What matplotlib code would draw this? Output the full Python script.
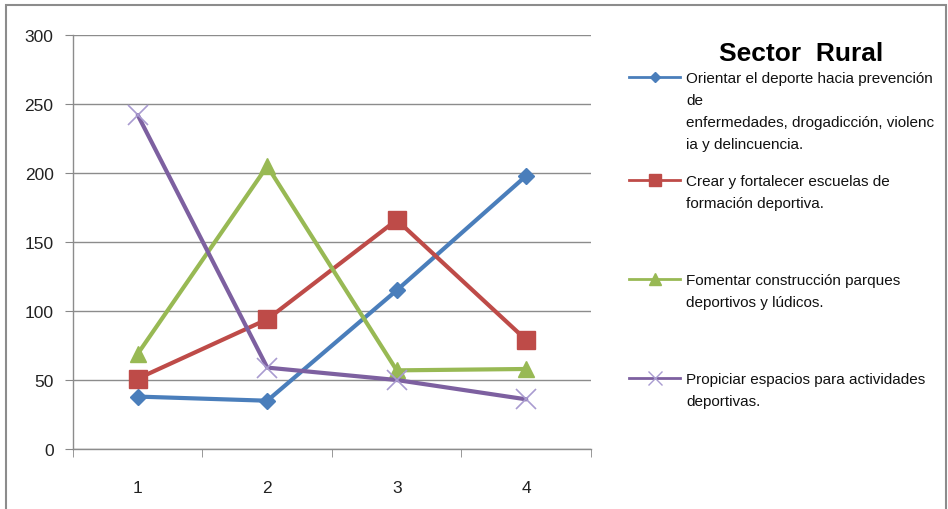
import matplotlib
matplotlib.use("Agg")
import matplotlib.pyplot as plt
from matplotlib.lines import Line2D
from matplotlib.patches import Rectangle

# data
categories = [1, 2, 3, 4]
orientar = [38, 35, 115, 198]
crear = [51, 94, 166, 79]
fomentar = [69, 205, 57, 58]
propiciar = [242, 59, 50, 36]

labels = [
    "Orientar el deporte hacia prevención\nde\nenfermedades, drogadicción, violenc\nia y delincuencia.",
    "Crear y fortalecer escuelas de\nformación deportiva.",
    "Fomentar construcción parques\ndeportivos y lúdicos.",
    "Propiciar espacios para actividades\ndeportivas.",
]
title = "Sector  Rural"

colors = ["#4A7EBB", "#BE4B48", "#98B954", "#7D60A0"]
markers = ["D", "s", "^", "x"]
msizes = [8, 13, 12, 14]

plt.rcParams["font.family"] = ["Liberation Sans", "DejaVu Sans"]

fig = plt.figure(figsize=(9.48, 5.1), dpi=100)
ax = fig.add_axes([0.077, 0.1176, 0.5464, 0.8118])

series = [orientar, crear, fomentar, propiciar]
for vals, c, m, ms in zip(series, colors, markers, msizes):
    if m == "x":
        ax.plot(categories, vals, color=c, lw=3, marker=m, ms=ms,
                markeredgecolor="#A99BD0", mew=1.2, solid_capstyle="round")
    else:
        ax.plot(categories, vals, color=c, lw=3, marker=m, ms=ms,
                markeredgecolor=c, solid_capstyle="round")

ax.set_xlim(0.5, 4.5)
ax.set_ylim(0, 300)
ax.set_yticks(range(0, 301, 50))
ax.set_xticks(categories)
ax.set_xticks([0.5, 1.5, 2.5, 3.5, 4.5], minor=True)
ax.tick_params(axis="x", which="major", length=0, pad=22, labelsize=12.5, colors="#222222")
ax.tick_params(axis="x", which="minor", length=6, color="#888888", direction="out")
ax.tick_params(axis="y", length=6, labelsize=12.5, pad=8)
ax.tick_params(axis="y", colors="#888888", labelcolor="#222222")
ax.yaxis.grid(True, color="#8c8c8c", lw=1)
ax.set_axisbelow(True)
for s in ["top", "right"]:
    ax.spines[s].set_visible(False)
for s in ["left", "bottom"]:
    ax.spines[s].set_color("#8c8c8c")
    ax.spines[s].set_linewidth(1)

# legend drawn by hand to match the spacing in the reference
fig.text(0.845, 0.895, title, ha="center", va="center", fontsize=19,
         fontweight="bold")
ys = [0.847, 0.645, 0.451, 0.257]
for lab, c, m, ms, y in zip(labels, colors, markers, msizes, ys):
    fig.add_artist(Line2D([0.664, 0.717], [y, y], transform=fig.transFigure,
                          color=c, lw=2))
    mec = "#A99BD0" if m == "x" else c
    fig.add_artist(Line2D([0.6905], [y], transform=fig.transFigure, color=c,
                          marker=m, ms=ms * 0.7, markeredgecolor=mec, mew=1))
    fig.text(0.724, y + 0.012, lab, ha="left", va="top", fontsize=11,
             linespacing=1.73, color="#111111")

fig.add_artist(Rectangle((0.006, -0.01), 0.992, 0.998, transform=fig.transFigure,
                         fill=False, edgecolor="#8c8c8c", lw=1.5))

fig.savefig("out.png", dpi=100)
